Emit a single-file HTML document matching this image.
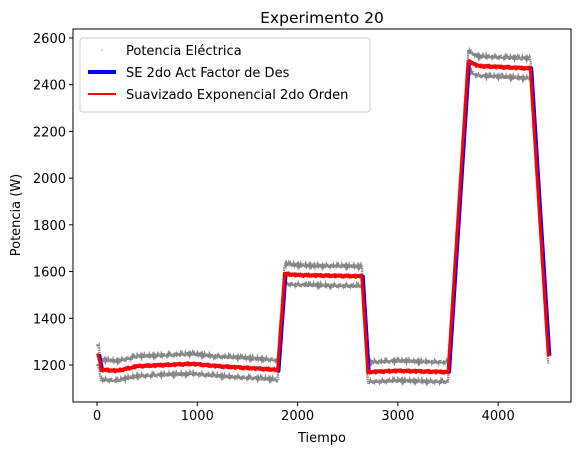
<!DOCTYPE html>
<html><head><meta charset="utf-8"><style>
body{margin:0;background:#fff}
svg{display:block;font-family:"DejaVu Sans","Liberation Sans",sans-serif}
</style></head><body>
<svg id="chart" width="580" height="455" viewBox="0 0 580 455">
<rect width="580" height="455" fill="#fff"/>
<text x="322" y="23" font-size="15.5" text-anchor="middle">Experimento 20</text>
<g id="plot"></g>
<g id="axes"></g>
<text x="322" y="442" font-size="13" text-anchor="middle">Tiempo</text>
<text x="0" y="0" font-size="13" text-anchor="middle" transform="translate(20,215) rotate(-90)">Potencia (W)</text>
<g>
<rect x="80" y="38" width="290" height="74" rx="3" fill="#fff" fill-opacity="0.85" stroke="#ccc"/>
<g><circle cx="102" cy="50" r="0.8" fill="#999"/><text x="126" y="55" font-size="13">Potencia Eléctrica</text></g>
<g><line x1="88" x2="116" y1="72" y2="72" stroke="#0000ff" stroke-width="4"/><text x="126" y="77" font-size="13">SE 2do Act Factor de Des</text></g>
<g><line x1="88" x2="116" y1="94" y2="94" stroke="#ff0000" stroke-width="2"/><text x="126" y="99" font-size="13">Suavizado Exponencial 2do Orden</text></g>
</g>
</svg>
<script>
const times=[0,15,40,200,400,950,1200,1780,1800,1870,2000,2620,2640,2700,3000,3480,3500,3700,3800,4300,4320,4500];
const smoothValues=[1240,1240,1180,1175,1195,1205,1195,1180,1175,1590,1585,1580,1580,1170,1175,1170,1170,2500,2480,2470,2470,1240];
const upperOffset=42;
const lowerOffset=-42;
const jitter=[0,6,-4,8,-7,3,-9,5,-2,7,-5,9,-8,2,-6,4,-3,8,-9,6];
const xTicks=[0,1000,2000,3000,4000];
const yTicks=[1200,1400,1600,1800,2000,2200,2400,2600];
const L=73,R=571,T=29,B=402;
const xs=t=>97+t*0.1003;
const ys=v=>365-(v-1200)*0.2336;
const NS='http://www.w3.org/2000/svg';
function mk(tag,attrs,parent){const e=document.createElementNS(NS,tag);for(const k in attrs)e.setAttribute(k,attrs[k]);parent.appendChild(e);return e;}
function interp(t){for(let i=1;i<times.length;i++){if(t<=times[i]){const f=(t-times[i-1])/(times[i]-times[i-1]);return smoothValues[i-1]+f*(smoothValues[i]-smoothValues[i-1]);}}return smoothValues[smoothValues.length-1];}
const plot=document.getElementById('plot');
[upperOffset,lowerOffset].forEach((off,bi)=>{
 let pts=[];
 for(let t=0,k=0;t<=4500;t+=6,k++){
  const v=interp(t)+off+jitter[(k+bi*7)%jitter.length];
  pts.push(xs(t).toFixed(1)+','+ys(v).toFixed(1));
 }
 const p=mk('polyline',{points:pts.join(' '),fill:'none',stroke:'#333','stroke-width':'2.2','stroke-opacity':'0.6','stroke-dasharray':'1.5 0.8'},plot);
 
 
});
let bp=times.map((t,i)=>xs(t+(i>0?12:0)).toFixed(1)+','+ys(smoothValues[i]).toFixed(1));
const blue=mk('polyline',{points:bp.join(' '),fill:'none',stroke:'#0000ff','stroke-width':'3.5','stroke-linejoin':'round'},plot);


let rp=[];
for(let t=0,k=0;t<=4500;t+=10,k++){rp.push(xs(t).toFixed(1)+','+ys(interp(t)+jitter[k%jitter.length]*0.6).toFixed(1));}
const red=mk('polyline',{points:rp.join(' '),fill:'none',stroke:'#ff0000','stroke-width':'3','stroke-linejoin':'round'},plot);


const ax=document.getElementById('axes');
const fr=mk('rect',{x:L,y:T,width:R-L,height:B-T,fill:'none',stroke:'#000','stroke-width':'1'},ax);


xTicks.forEach(v=>{
 const x=xs(v);
 mk('line',{x1:x,x2:x,y1:B,y2:B+4,stroke:'#000'},ax);
 const tx=mk('text',{x:x,y:B+18,'font-size':'13','text-anchor':'middle'},ax);tx.textContent=v;
 
 
});
yTicks.forEach(v=>{
 const y=ys(v);
 mk('line',{x1:L-4,x2:L,y1:y,y2:y,stroke:'#000'},ax);
 const tx=mk('text',{x:L-7,y:y+5,'font-size':'13','text-anchor':'end'},ax);tx.textContent=v;
 
 
});
</script>
</body></html>
